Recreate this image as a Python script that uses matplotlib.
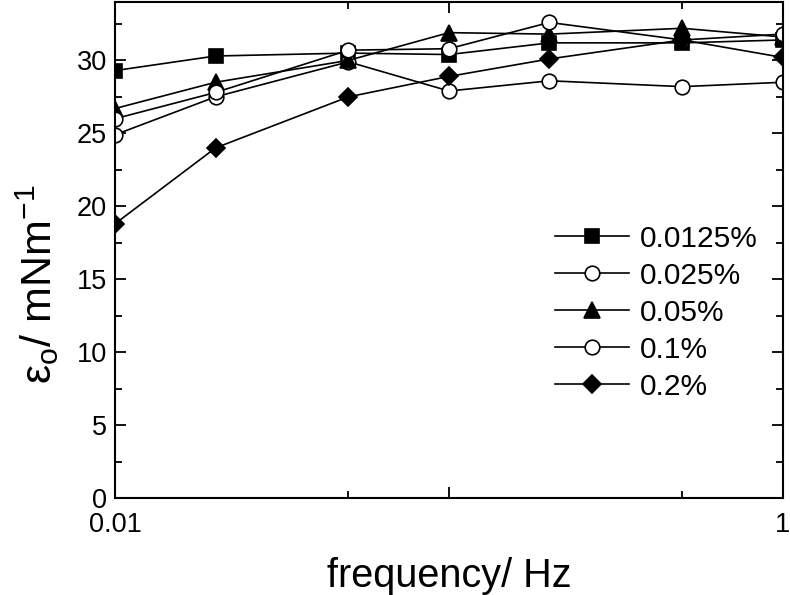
import matplotlib
matplotlib.use('Agg')
import matplotlib.pyplot as plt
from matplotlib.ticker import FixedLocator, NullFormatter

plt.rcParams['font.family'] = ['Liberation Sans', 'DejaVu Sans']
plt.rcParams['mathtext.fontset'] = 'custom'
plt.rcParams['mathtext.rm'] = 'Liberation Sans'
plt.rcParams['mathtext.it'] = 'Liberation Sans'

# fréquences (Hz)
freq = [0.01, 0.02, 0.05, 0.1, 0.2, 0.5, 1.0]

# module élastique pour chaque concentration
e_00125 = [29.3, 30.3, 30.5, 30.4, 31.2, 31.2, 31.4]
e_0025 = [24.9, 27.5, 29.9, 27.9, 28.6, 28.2, 28.5]
e_005 = [26.7, 28.5, 30.0, 31.9, 31.8, 32.2, 31.6]
e_01 = [26.0, 27.8, 30.7, 30.8, 32.6, 31.4, 31.8]
e_02 = [18.8, 24.0, 27.5, 28.9, 30.1, 31.4, 30.2]

labels = ['0.0125%', '0.025%', '0.05%', '0.1%', '0.2%']

fig = plt.figure(figsize=(7.9, 5.95), dpi=100)
ax = fig.add_axes([0.1456, 0.163, 0.8454, 0.8336])

kw = dict(color='black', linewidth=1.2, markeredgecolor='black', markeredgewidth=1.2)
ax.plot(freq, e_00125, marker='s', markersize=9.5, markerfacecolor='black', label=labels[0], **kw)
ax.plot(freq, e_0025, marker='o', markersize=10.5, markerfacecolor='white', label=labels[1], **kw)
ax.plot(freq, e_005, marker='^', markersize=11.5, markerfacecolor='black', label=labels[2], **kw)
ax.plot(freq, e_01, marker='o', markersize=10.5, markerfacecolor='white', label=labels[3], **kw)
ax.plot(freq, e_02, marker='D', markersize=9.5, markerfacecolor='black', label=labels[4], **kw)

ax.set_xscale('log')
ax.set_xlim(0.01, 1)
ax.set_ylim(0, 34)

ax.xaxis.set_major_locator(FixedLocator([0.01, 0.1, 1]))
ax.set_xticklabels(['0.01', '', '1'])
ax.xaxis.set_minor_locator(FixedLocator([0.05, 0.5]))
ax.xaxis.set_minor_formatter(NullFormatter())
ax.set_yticks([0, 5, 10, 15, 20, 25, 30])
ax.set_yticks([2.5, 7.5, 12.5, 17.5, 22.5, 27.5, 32.5], minor=True)

ax.tick_params(which='both', direction='in', top=True, right=True, width=1.3)
ax.tick_params(which='major', length=8, labelsize=19.5)
ax.tick_params(which='minor', length=5)
ax.tick_params(axis='x', which='major', pad=10)
ax.tick_params(axis='y', which='major', pad=6)
for s in ax.spines.values():
    s.set_linewidth(1.5)

ax.set_xlabel('frequency/ Hz', fontsize=28.5, labelpad=14)
ax.set_ylabel('ε$_\\mathrm{o}$/ mNm$^{-1}$', fontsize=31)
ax.yaxis.set_label_coords(-0.08, 0.43)

ax.legend(loc='upper left', bbox_to_anchor=(0.702, 0.622), bbox_transform=fig.transFigure,
          frameon=False, fontsize=21.5, handlelength=2.5, handletextpad=0.35,
          labelspacing=0.3, borderpad=0, borderaxespad=0)

fig.savefig('out.png', dpi=100)
